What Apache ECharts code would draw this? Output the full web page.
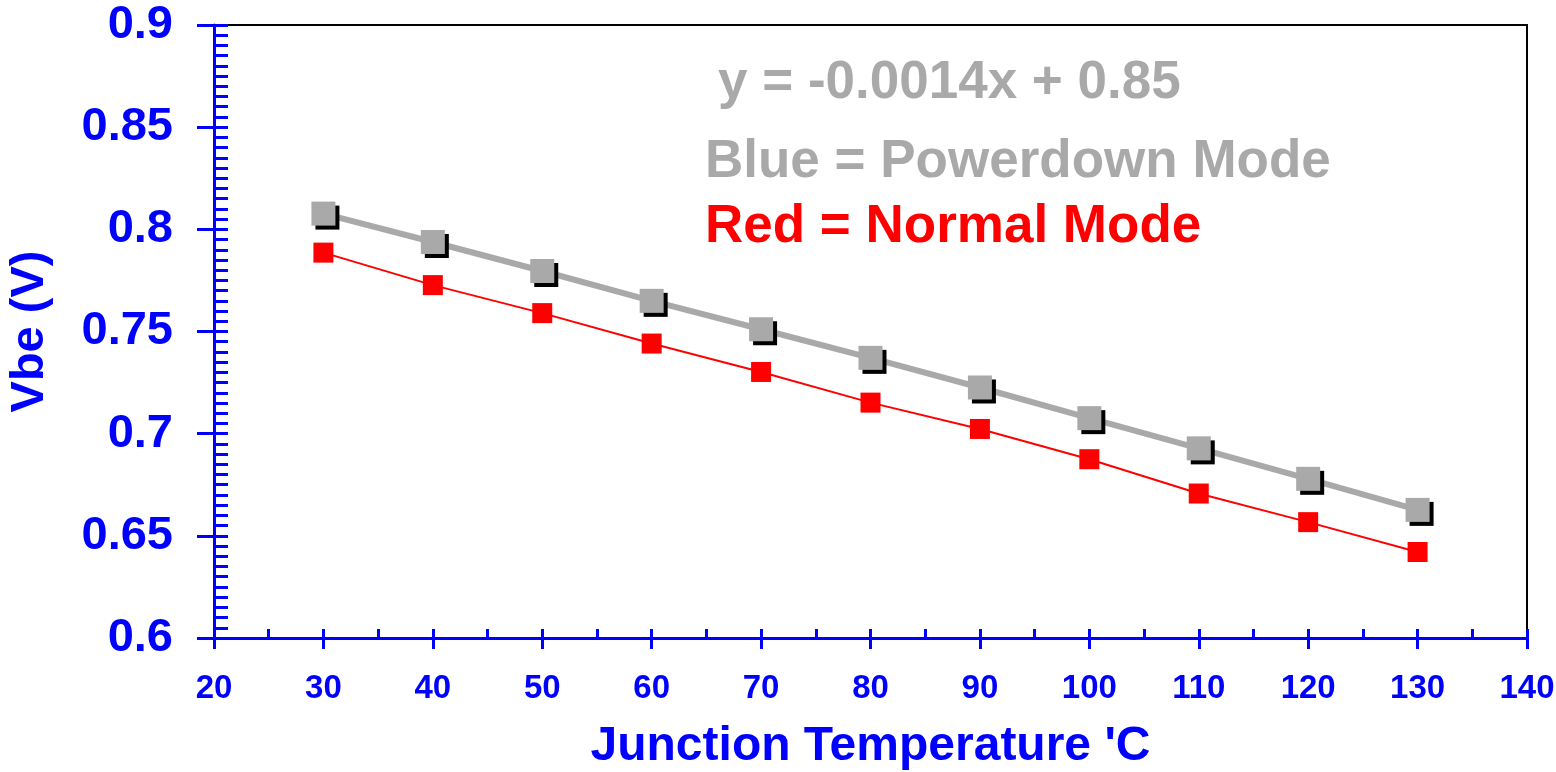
<!DOCTYPE html>
<html>
<head>
<meta charset="utf-8">
<script src="https://cdn.jsdelivr.net/npm/echarts@6/dist/echarts.min.js"></script>
<style>
html,body{margin:0;padding:0;background:#fff;}
#chart{width:1556px;height:772px;}
</style>
</head>
<body>
<div id="chart"></div>
<script>
// Data
const temperatures = [30, 40, 50, 60, 70, 80, 90, 100, 110, 120, 130];
const powerdownVbe = [0.8077, 0.7938, 0.7796, 0.7650, 0.7511, 0.7371, 0.7226, 0.7076, 0.6928, 0.6779, 0.6627];
const normalVbe    = [0.7886, 0.7727, 0.7590, 0.7441, 0.7302, 0.7152, 0.7023, 0.6875, 0.6707, 0.6567, 0.6421];
const xTickLabels = ['20','30','40','50','60','70','80','90','100','110','120','130','140'];
const yTickLabels = ['0.6','0.65','0.7','0.75','0.8','0.85','0.9'];
const annotations = ['y = -0.0014x + 0.85', 'Blue = Powerdown Mode', 'Red = Normal Mode'];
const xTitle = "Junction Temperature 'C";
const yTitle = 'Vbe (V)';

const FONT = '"Liberation Sans", Arial, sans-serif';
const BLUE = '#0000FF';
const GRAY = '#A9A9A9';
const RED = '#FF0000';

const chart = echarts.init(document.getElementById('chart'), null, {renderer: 'canvas'});

const xMin = 20, xMax = 140, xInt = 10;
const yMin = 0.6, yMax = 0.9, yInt = 0.05;

function xFmt(v){ const i = Math.round((v - xMin) / xInt); return xTickLabels[i] || ''; }
function yFmt(v){ const i = Math.round((v - yMin) / yInt); return yTickLabels[i] || ''; }

const option = {
  animation: false,
  backgroundColor: '#fff',
  grid: {
    left: 214, right: 29, top: 25, bottom: 134,
    containLabel: false, outerBoundsMode: 'none',
    show: true, borderColor: '#000', borderWidth: 2, backgroundColor: 'transparent'
  },
  xAxis: [
    {
      type: 'value', position: 'bottom', min: xMin, max: xMax, interval: xInt,
      name: xTitle, nameLocation: 'middle', nameGap: 85,
      nameTextStyle: {fontFamily: FONT, fontWeight: 'bold', fontSize: 48, color: BLUE},
      axisLine: {show: true, onZero: false, lineStyle: {color: BLUE, width: 3}},
      axisTick: {show: true, inside: true, length: 9, lineStyle: {color: BLUE, width: 3}},
      minorTick: {show: true, splitNumber: 2, length: 9, lineStyle: {color: BLUE, width: 3}},
      axisLabel: {show: true, margin: 34, formatter: xFmt, fontFamily: FONT, fontWeight: 'bold', fontSize: 33, color: BLUE},
      splitLine: {show: false}
    },
    {
      type: 'value', position: 'bottom', min: xMin, max: xMax, interval: xInt,
      axisLine: {show: false, onZero: false},
      axisTick: {show: true, inside: false, length: 11, lineStyle: {color: BLUE, width: 3}},
      axisLabel: {show: false},
      splitLine: {show: false}
    }
  ],
  yAxis: [
    {
      type: 'value', position: 'left', min: yMin, max: yMax, interval: yInt,
      name: yTitle, nameLocation: 'middle', nameGap: 160, nameRotate: 90,
      nameTextStyle: {fontFamily: FONT, fontWeight: 'bold', fontSize: 47, color: BLUE},
      axisLine: {show: true, onZero: false, lineStyle: {color: BLUE, width: 3}},
      axisTick: {show: true, inside: true, length: 14, lineStyle: {color: BLUE, width: 3}},
      minorTick: {show: true, splitNumber: 10, length: 14, lineStyle: {color: BLUE, width: 3}},
      axisLabel: {show: true, margin: 41, formatter: yFmt, fontFamily: FONT, fontWeight: 'bold', fontSize: 47, color: BLUE},
      splitLine: {show: false}
    },
    {
      type: 'value', position: 'left', min: yMin, max: yMax, interval: yInt,
      axisLine: {show: false, onZero: false},
      axisTick: {show: true, inside: false, length: 17, lineStyle: {color: BLUE, width: 3}},
      axisLabel: {show: false},
      splitLine: {show: false}
    }
  ],
  series: [
    {
      name: 'Normal Mode', type: 'line', xAxisIndex: 0, yAxisIndex: 0,
      data: temperatures.map((t, i) => [t, normalVbe[i]]),
      symbol: 'rect', symbolSize: 20, showAllSymbol: true,
      lineStyle: {color: RED, width: 2},
      itemStyle: {color: RED, borderWidth: 0}
    },
    {
      name: 'Powerdown Mode', type: 'line', xAxisIndex: 0, yAxisIndex: 0,
      data: temperatures.map((t, i) => [t, powerdownVbe[i]]),
      symbol: 'rect', symbolSize: 24, showAllSymbol: true,
      lineStyle: {color: GRAY, width: 6},
      itemStyle: {color: GRAY, borderWidth: 0, shadowColor: '#000', shadowBlur: 0, shadowOffsetX: 4, shadowOffsetY: 4}
    }
  ],
  graphic: [
    {type: 'text', left: 718, top: 57, style: {text: annotations[0], font: 'bold 53px ' + FONT, fill: GRAY}},
    {type: 'text', left: 705, top: 136, style: {text: annotations[1], font: 'bold 53px ' + FONT, fill: GRAY}},
    {type: 'text', left: 705, top: 201, style: {text: annotations[2], font: 'bold 53px ' + FONT, fill: RED}}
  ]
};
chart.setOption(option);
</script>
</body>
</html>
